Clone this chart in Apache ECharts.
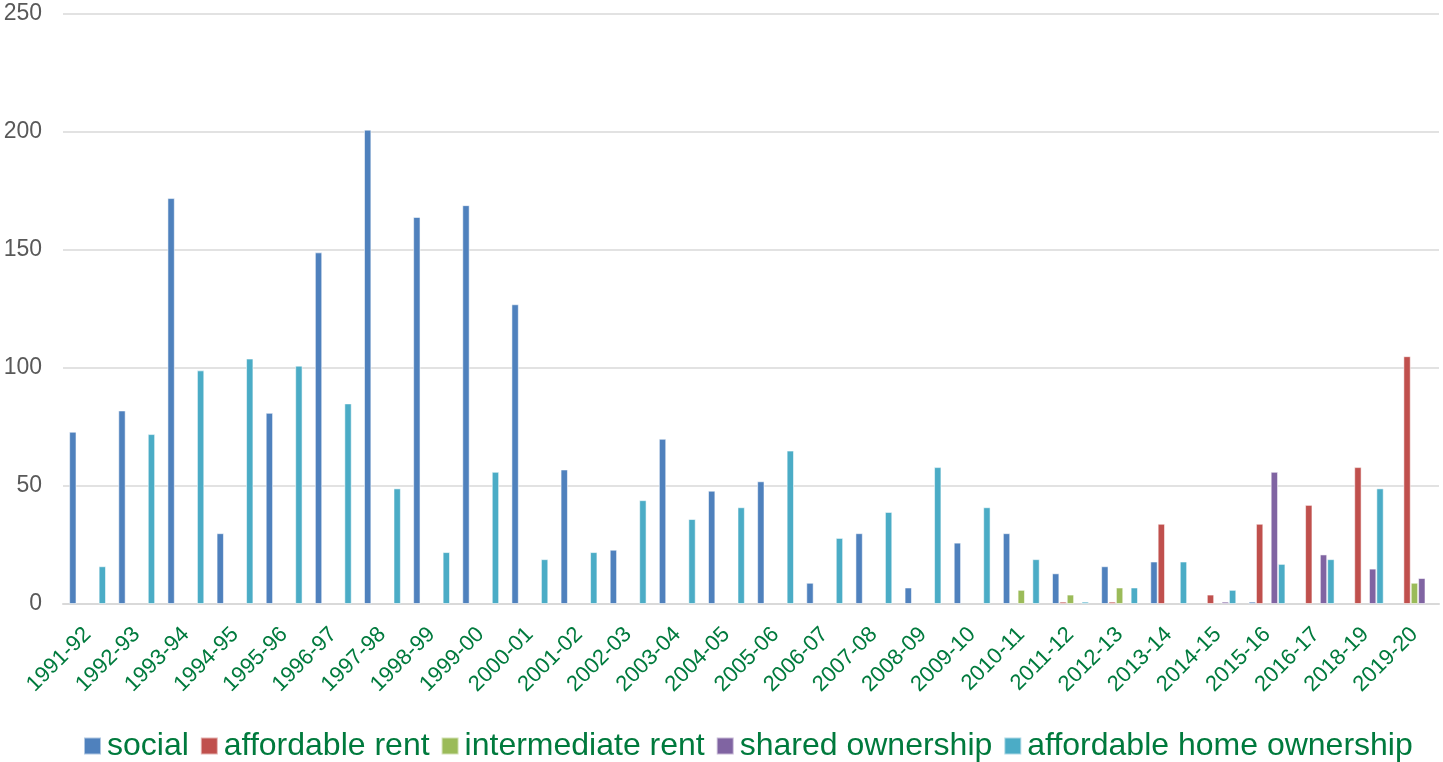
<!DOCTYPE html>
<html>
<head>
<meta charset="utf-8">
<script src="https://cdn.jsdelivr.net/npm/echarts@6/dist/echarts.min.js"></script>
<style>
html,body{margin:0;padding:0;background:#fff;}
#chart{width:1443px;height:762px;}
</style>
</head>
<body>
<div id="chart"></div>
<script>
const categories = ['1991-92','1992-93','1993-94','1994-95','1995-96','1996-97','1997-98','1998-99','1999-00','2000-01','2001-02','2002-03','2003-04','2004-05','2005-06','2006-07','2007-08','2008-09','2009-10','2010-11','2011-12','2012-13','2013-14','2014-15','2015-16','2016-17','2018-19','2019-20'];
const social = [73,82,172,30,81,149,201,164,169,127,57,23,70,48,52,9,30,7,26,30,13,16,18,null,1,null,null,null];
const affordableRent = [null,null,null,null,null,null,null,null,null,null,null,null,null,null,null,null,null,null,null,null,1,1,34,4,34,42,58,105];
const intermediateRent = [null,null,null,null,null,null,null,null,null,null,null,null,null,null,null,null,null,null,null,6,4,7,null,null,null,null,null,9];
const sharedOwnership = [null,null,null,null,null,null,null,null,null,null,null,null,null,null,null,null,null,null,null,null,null,null,null,1,56,21,15,11];
const affordableHomeOwnership = [16,72,99,104,101,85,49,22,56,19,22,44,36,41,65,28,39,58,41,19,1,7,18,6,17,19,49,null];
const yTicks = [0,50,100,150,200,250];

const seriesDefs = [
  {name:'social', data:social, color:'#4f81bd'},
  {name:'affordable rent', data:affordableRent, color:'#c0504d'},
  {name:'intermediate rent', data:intermediateRent, color:'#9bbb59'},
  {name:'shared ownership', data:sharedOwnership, color:'#8064a2'},
  {name:'affordable home ownership', data:affordableHomeOwnership, color:'#4bacc6'}
];

const chart = echarts.init(document.getElementById('chart'), null, {renderer:'canvas'});
const font = '"Liberation Sans", Arial, sans-serif';
chart.setOption({
  animation:false,
  backgroundColor:'#ffffff',
  grid:{left:63, right:4, top:14, bottom:158, containLabel:false},
  legend:{
    top:725, left:78,
    itemWidth:17, itemHeight:17, itemGap:11,
    icon:'rect',
    textStyle:{color:'#007a3d', fontSize:32, fontFamily:font, padding:[0,0,0,1]},
    data:seriesDefs.map(s=>s.name)
  },
  xAxis:{
    type:'category', data:categories,
    axisLine:{lineStyle:{color:'#d9d9d9', width:2}},
    axisTick:{show:false},
    axisLabel:{rotate:45, color:'#007a3d', fontSize:22, fontFamily:font, margin:27, interval:0}
  },
  yAxis:{
    type:'value', min:yTicks[0], max:yTicks[yTicks.length-1], interval:50,
    axisLine:{show:false}, axisTick:{show:false},
    splitLine:{lineStyle:{color:'#d9d9d9', width:1.5}},
    axisLabel:{color:'#595959', fontSize:23, fontFamily:font, margin:21}
  },
  series:seriesDefs.map(s=>({
    name:s.name, type:'bar', data:s.data,
    barGap:'0%', barCategoryGap:'25%',
    itemStyle:{color:s.color, borderColor:'rgba(255,255,255,0.55)', borderWidth:1}
  }))
});
</script>
</body>
</html>
